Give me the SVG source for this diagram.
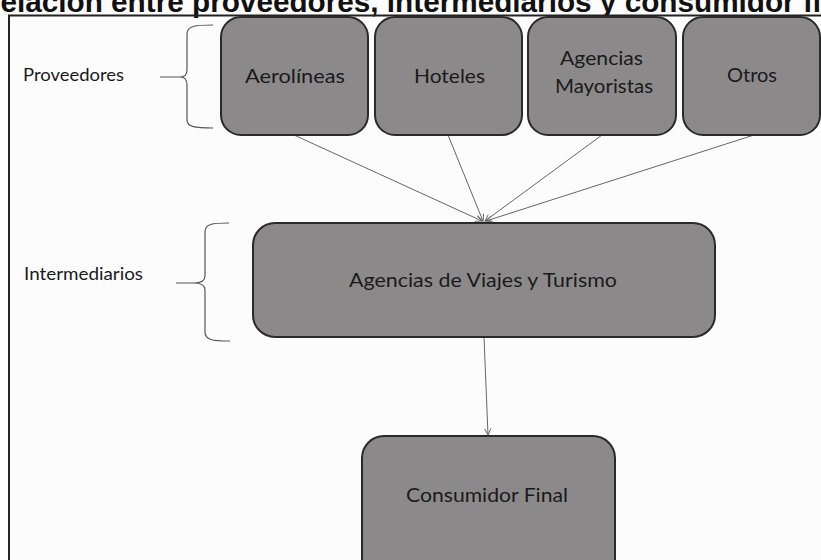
<svg xmlns="http://www.w3.org/2000/svg" width="821" height="560" viewBox="0 0 821 560">
<defs>
<marker id="arr" viewBox="0 0 10 10" refX="9" refY="5" markerWidth="8" markerHeight="8" orient="auto" markerUnits="userSpaceOnUse">
<path d="M1,1 L9,5 L1,9" fill="none" stroke="#666" stroke-width="1.2"/>
</marker>
</defs>
<style>
.box{fill:#8c898b;stroke:#2a2a2a;stroke-width:2}
.lbl{font-family:Lato,"Liberation Sans",sans-serif;font-size:19px;fill:#1a1a1a}
.side{font-family:Lato,"Liberation Sans",sans-serif;font-size:17px;fill:#1a1a1a}
.brace{fill:none;stroke:#555;stroke-width:1.2}
.conn{fill:none;stroke:#666;stroke-width:1;marker-end:url(#arr)}
.title{font-family:"Liberation Sans",Arial,sans-serif;font-weight:bold;font-size:30px;fill:#111}
</style>
<rect width="821" height="560" fill="#fcfcfc"/>
<text class="title" x="-21" y="12" textLength="885" lengthAdjust="spacingAndGlyphs">Relación entre proveedores, intermediarios y consumidor final</text>
<path d="M9,570 L9,15.5 L830,15.5" fill="none" stroke="#222" stroke-width="2"/>

<g id="label-proveedores">
<text class="side" x="23" y="81" textLength="101" lengthAdjust="spacingAndGlyphs">Proveedores</text>
<path class="brace" d="M213,25 C195,25 187,26 187,34 L187,70 C187,76 184,77 180,77 L160,77 M180,77 C184,77 187,79 187,85 L187,120 C187,127 195,128 213,128"/>
</g>
<g id="label-intermediarios">
<text class="side" x="24" y="280" textLength="119" lengthAdjust="spacingAndGlyphs">Intermediarios</text>
<path class="brace" d="M229,223 C212,223 205,224 205,232 L205,276 C205,281 200,283 194,283 L176,283 M194,283 C200,283 205,285 205,290 L205,332 C205,340 212,341 230,341"/>
</g>

<g id="connectors">
<line class="conn" x1="294" y1="135" x2="482" y2="221"/>
<line class="conn" x1="448" y1="135" x2="483" y2="221"/>
<line class="conn" x1="602" y1="135" x2="485" y2="221"/>
<line class="conn" x1="754" y1="135" x2="486" y2="221"/>
<line class="conn" x1="484" y1="337" x2="488" y2="435"/>
</g>

<g id="aerolineas">
<rect class="box" x="221" y="17" width="147" height="118" rx="20"/>
<text class="lbl" x="245" y="83" textLength="100" lengthAdjust="spacingAndGlyphs">Aerolíneas</text>
</g>
<g id="hoteles">
<rect class="box" x="375" y="17" width="147" height="118" rx="20"/>
<text class="lbl" x="414" y="83" textLength="71" lengthAdjust="spacingAndGlyphs">Hoteles</text>
</g>
<g id="agencias-mayoristas">
<rect class="box" x="528" y="17" width="148" height="118" rx="20"/>
<text class="lbl" x="560" y="65" textLength="83" lengthAdjust="spacingAndGlyphs">Agencias</text>
<text class="lbl" x="555" y="93" textLength="98" lengthAdjust="spacingAndGlyphs">Mayoristas</text>
</g>
<g id="otros">
<rect class="box" x="683" y="17" width="137" height="118" rx="20"/>
<text class="lbl" x="727" y="82" textLength="50" lengthAdjust="spacingAndGlyphs">Otros</text>
</g>
<g id="agencias-viajes">
<rect class="box" x="253" y="223" width="462" height="114" rx="22"/>
<text class="lbl" x="349" y="287" textLength="268" lengthAdjust="spacingAndGlyphs">Agencias de Viajes y Turismo</text>
</g>
<g id="consumidor-final">
<rect class="box" x="362" y="436" width="253" height="150" rx="22"/>
<text class="lbl" x="406" y="502" textLength="162" lengthAdjust="spacingAndGlyphs">Consumidor Final</text>
</g>
</svg>
